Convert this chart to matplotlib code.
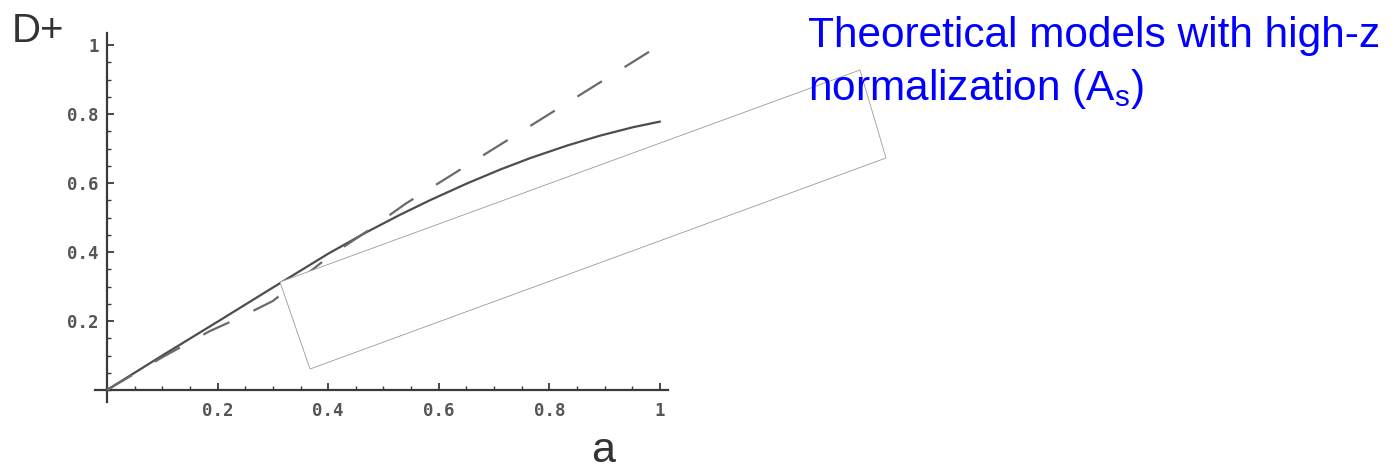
import matplotlib
matplotlib.use("Agg")
import matplotlib.pyplot as plt
from matplotlib.patches import Polygon
from matplotlib.ticker import MultipleLocator

# Growth factor D+ versus scale factor a
a_values = [0.0, 0.1, 0.2, 0.3, 0.4, 0.47, 0.53, 0.584, 0.65, 0.711, 0.765,
            0.831, 0.891, 0.952, 1.0]
d_lcdm = [0.0, 0.1, 0.198, 0.297, 0.395, 0.458, 0.508, 0.55, 0.598, 0.639, 0.672,
          0.708, 0.737, 0.762, 0.778]

a_eds = [0.0, 0.1, 0.185, 0.24, 0.30, 0.40, 0.47, 0.54, 0.65, 0.75, 0.85, 0.94, 1.0]
d_eds = [0.0, 0.095, 0.17, 0.21, 0.258, 0.385, 0.46, 0.54, 0.65, 0.75, 0.85, 0.94, 1.0]

x_ticks = [0.2, 0.4, 0.6, 0.8, 1.0]
x_tick_labels = ["0.2", "0.4", "0.6", "0.8", "1"]
y_ticks = [0.2, 0.4, 0.6, 0.8, 1.0]
y_tick_labels = ["0.2", "0.4", "0.6", "0.8", "1"]

W, H = 1398, 469
fig = plt.figure(figsize=(W / 100, H / 100), dpi=100)

# axes frame placed so that the data origin sits near the lower left of the panel
left_px, right_px, top_px, bottom_px = 95, 668, 33, 402
ax = fig.add_axes([left_px / W, 1 - bottom_px / H,
                   (right_px - left_px) / W, (bottom_px - top_px) / H])
x_per = 553.0
y_per = 345.0
ax.set_xlim(-12 / x_per, (right_px - 107) / x_per)
ax.set_ylim(-(bottom_px - 390) / y_per, (390 - top_px) / y_per)

for side in ("top", "right"):
    ax.spines[side].set_visible(False)
ax.spines["left"].set_position(("data", 0))
ax.spines["bottom"].set_position(("data", 0))
for side in ("left", "bottom"):
    ax.spines[side].set_color("#3a3a3a")
    ax.spines[side].set_linewidth(1.6)

ax.xaxis.set_major_locator(MultipleLocator(0.2))
ax.yaxis.set_major_locator(MultipleLocator(0.2))
ax.xaxis.set_minor_locator(MultipleLocator(0.05))
ax.yaxis.set_minor_locator(MultipleLocator(0.05))
ax.set_xticks(x_ticks)
ax.set_xticklabels(x_tick_labels)
ax.set_yticks(y_ticks)
ax.set_yticklabels(y_tick_labels)
ax.tick_params(which="major", direction="in", length=5, width=1.3,
               color="#3a3a3a", labelsize=12.5, labelcolor="#555555")
ax.tick_params(which="minor", direction="in", length=3, width=1.0, color="#3a3a3a")
ax.tick_params(axis="x", which="major", pad=9)
ax.tick_params(axis="y", which="major", pad=6)
for lab in ax.get_xticklabels() + ax.get_yticklabels():
    lab.set_fontfamily("DejaVu Sans Mono")
    lab.set_fontweight("bold")

ax.plot(a_values, d_lcdm, color="#4d4d4d", lw=1.6, solid_capstyle="round",
        solid_joinstyle="round", zorder=3)
ax.plot(a_eds, d_eds, color="#6a6a6a", lw=1.6, dashes=(13, 12), zorder=3)

# axis labels
fig.text(12 / W, 1 - 42 / H, "D+", fontsize=29, color="#333333",
         family="Liberation Sans", ha="left", va="baseline")
fig.text(591 / W, 1 - 462 / H, "a", fontsize=31, color="#333333",
         family="Liberation Sans", ha="left", va="baseline")

# tilted callout box
box_px = [(280, 282), (860, 70), (886, 158), (310, 369)]
box = Polygon([(x / W, 1 - y / H) for x, y in box_px], closed=True,
              transform=fig.transFigure, facecolor="white",
              edgecolor="#9a9a9a", linewidth=0.6, zorder=5)
fig.patches.append(box)

# annotation text
plt.rcParams["mathtext.fontset"] = "custom"
plt.rcParams["mathtext.rm"] = "Liberation Sans"
fig.text(808 / W, 1 - 47 / H, "Theoretical models with high-z", fontsize=30.5,
         color="#0000ff", family="Liberation Sans", ha="left", va="baseline",
         zorder=10)
fig.text(808 / W, 1 - 100 / H, r"normalization (A$_{\mathrm{s}}$)", fontsize=30.5,
         color="#0000ff", family="Liberation Sans", ha="left", va="baseline",
         zorder=10)

fig.savefig("out.png", dpi=100, facecolor="white")
